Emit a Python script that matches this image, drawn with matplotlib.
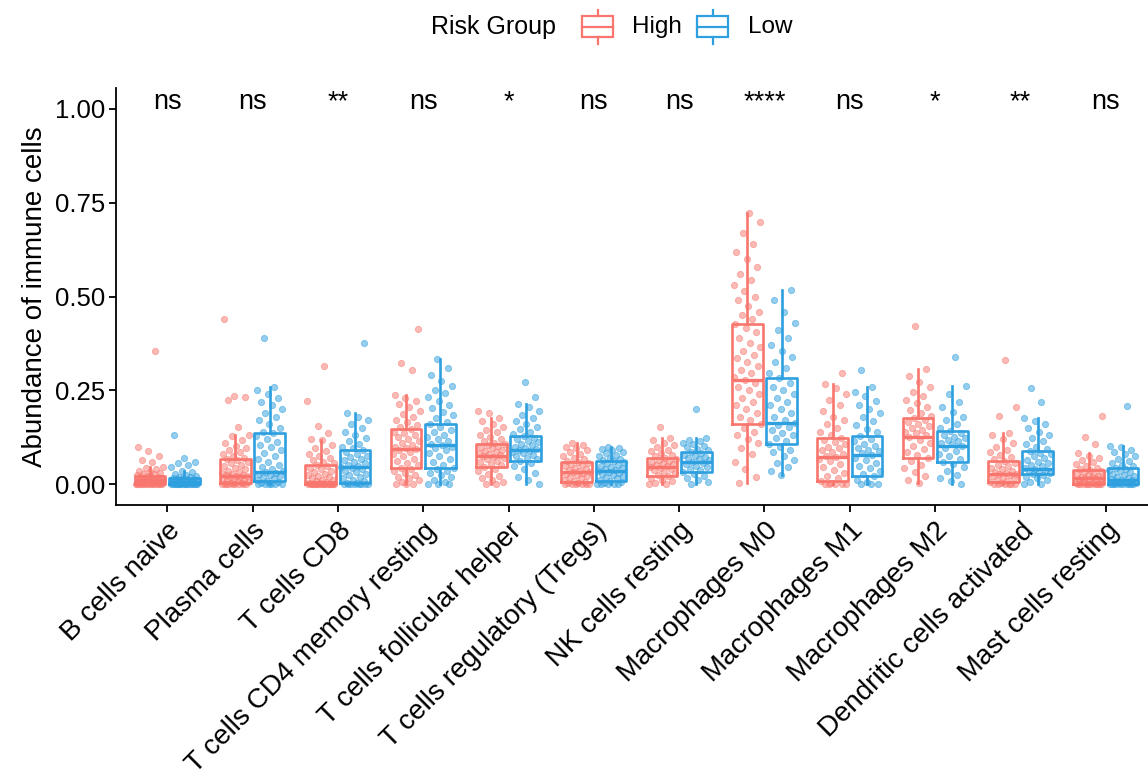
import matplotlib
matplotlib.use("Agg")
import matplotlib.pyplot as plt
from matplotlib.patches import Rectangle
from matplotlib.lines import Line2D

plt.rcParams['font.family'] = ['Liberation Sans', 'DejaVu Sans']

categories = ["B cells naive", "Plasma cells", "T cells CD8", "T cells CD4 memory resting",
              "T cells follicular helper", "T cells regulatory (Tregs)", "NK cells resting",
              "Macrophages M0", "Macrophages M1", "Macrophages M2",
              "Dendritic cells activated", "Mast cells resting"]
groups = ["High", "Low"]
signif = ["ns", "ns", "**", "ns", "*", "ns", "ns", "****", "ns", "*", "**", "ns"]

# box statistics
high_lo = [0, 0, 0, 0, 0, 0, 0, 0.003, 0, 0.003, 0, 0]
high_q1 = [0, .004, 0, .044, .046, .006, .021, .160, .008, .070, .006, 0]
high_med = [.010, .022, .004, .093, .076, .033, .046, .277, .071, .126, .028, .015]
high_q3 = [.022, .066, .052, .147, .106, .058, .070, .427, .122, .175, .061, .037]
high_hi = [.046, .132, .117, .237, .175, .110, .124, .722, .268, .306, .137, .082]

low_lo = [0, 0, 0, 0, 0, 0, 0, .024, 0, 0, 0, 0]
low_q1 = [0, .009, .004, .044, .061, .009, .033, .107, .021, .060, .027, 0]
low_med = [.006, .033, .046, .104, .091, .035, .060, .162, .077, .102, .040, .011]
low_q3 = [.015, .135, .090, .159, .129, .061, .086, .282, .129, .141, .088, .043]
low_hi = [.035, .258, .190, .333, .213, .100, .122, .517, .258, .262, .177, .102]

# individual sample values (estimated)
high_points = [
    [0, 0, 0, 0, 0, 0, 0, 0, 0, 0, 0, 0, 0, 0, .002, .003, .004, .005, .006, .007, .008, .009, .010, .010, .011,
     .012, .013, .014, .015, .016, .018, .019, .020, .022, .024, .026, .028, .030, .033, .036, .040, .043, .046,
     .060, .065, .075, .089, .100, .355],
    [0, 0, 0, 0, 0, 0, 0, 0, 0, .002, .004, .006, .008, .010, .012, .014, .016, .018, .020, .021, .022, .023, .025,
     .027, .030, .033, .036, .040, .044, .048, .052, .056, .060, .064, .066, .070, .075, .080, .085, .090, .096,
     .102, .110, .118, .128, .132, .153, .224, .233, .235, .440],
    [0, 0, 0, 0, 0, 0, 0, 0, 0, 0, 0, 0, 0, 0, 0, 0, 0, 0, .002, .004, .006, .008, .010, .012, .015, .018, .021,
     .024, .028, .032, .036, .040, .044, .048, .052, .056, .060, .065, .070, .075, .080, .088, .095, .105, .117,
     .120, .137, .156, .222, .315],
    [0, 0, 0, .005, .010, .015, .020, .025, .030, .035, .040, .044, .050, .056, .062, .068, .074, .080, .085, .090,
     .093, .096, .100, .105, .110, .115, .120, .125, .130, .135, .140, .147, .152, .158, .165, .172, .180, .188,
     .196, .205, .214, .222, .230, .237, .303, .322, .413],
    [0, 0, .005, .010, .016, .022, .028, .034, .040, .046, .050, .054, .058, .062, .066, .070, .073, .076, .078,
     .080, .083, .086, .089, .092, .095, .098, .101, .104, .106, .110, .115, .120, .126, .132, .138, .145, .152,
     .160, .168, .175, .190, .195],
    [0, 0, 0, 0, 0, 0, .002, .004, .006, .009, .012, .015, .018, .021, .024, .027, .030, .032, .033, .035, .038,
     .041, .044, .047, .050, .053, .056, .058, .062, .066, .070, .075, .080, .085, .090, .095, .100, .105, .110],
    [0, 0, .004, .008, .012, .016, .021, .025, .029, .033, .037, .040, .043, .046, .048, .050, .053, .056, .059,
     .062, .065, .068, .070, .074, .078, .082, .087, .092, .098, .104, .110, .117, .124, .153],
    [.003, .020, .040, .060, .080, .095, .110, .120, .130, .140, .150, .160, .170, .180, .190, .200, .210, .220,
     .230, .240, .250, .260, .270, .277, .285, .295, .305, .315, .325, .335, .345, .355, .365, .375, .390, .405,
     .415, .427, .440, .450, .460, .475, .490, .500, .515, .530, .545, .560, .580, .600, .620, .640, .670, .700,
     .722],
    [0, 0, 0, 0, 0, .004, .008, .015, .022, .030, .038, .046, .054, .062, .068, .071, .075, .080, .085, .090, .095,
     .100, .106, .112, .117, .122, .130, .140, .150, .160, .170, .180, .195, .210, .225, .240, .255, .268, .295],
    [.003, .012, .022, .032, .042, .052, .061, .070, .078, .086, .094, .102, .110, .118, .126, .130, .135, .140,
     .145, .150, .155, .160, .165, .170, .175, .182, .190, .198, .206, .215, .225, .235, .245, .258, .272, .288,
     .306, .421],
    [0, 0, 0, 0, 0, 0, .003, .006, .009, .012, .015, .018, .021, .024, .027, .028, .030, .033, .036, .040, .044,
     .048, .052, .056, .061, .066, .072, .078, .085, .092, .100, .110, .120, .130, .137, .182, .206, .331],
    [0, 0, 0, 0, 0, 0, 0, 0, 0, 0, .002, .004, .006, .008, .010, .012, .014, .015, .016, .018, .020, .022, .024,
     .026, .028, .031, .034, .037, .040, .044, .048, .053, .058, .064, .070, .076, .082, .106, .125, .181],
]
low_points = [
    [0, 0, 0, 0, 0, 0, 0, 0, 0, 0, 0, 0, 0, 0, 0, 0, .001, .002, .003, .004, .005, .006, .006, .007, .008, .009,
     .010, .011, .012, .013, .014, .015, .016, .018, .020, .022, .025, .028, .031, .035, .045, .050, .055, .060,
     .070, .130],
    [0, 0, 0, 0, 0, 0, .003, .006, .009, .012, .015, .018, .021, .024, .027, .030, .033, .035, .040, .046, .052,
     .060, .068, .075, .082, .090, .098, .105, .112, .120, .128, .135, .140, .150, .160, .170, .180, .190, .200,
     .210, .220, .230, .240, .250, .258, .390],
    [0, 0, 0, 0, 0, 0, 0, 0, .002, .004, .008, .012, .016, .020, .024, .028, .032, .036, .040, .043, .046, .048,
     .052, .056, .060, .064, .068, .072, .076, .080, .085, .090, .095, .100, .108, .116, .124, .132, .140, .150,
     .160, .170, .180, .190, .377],
    [0, 0, 0, .005, .012, .018, .024, .030, .036, .040, .044, .050, .058, .066, .074, .082, .090, .096, .100, .104,
     .108, .114, .120, .126, .132, .138, .145, .152, .159, .166, .175, .184, .193, .202, .212, .222, .232, .242,
     .252, .262, .275, .290, .310, .333],
    [0, .010, .020, .030, .040, .048, .055, .061, .066, .070, .074, .078, .082, .086, .089, .091, .094, .097, .100,
     .104, .108, .112, .116, .120, .124, .129, .134, .140, .146, .152, .160, .168, .176, .185, .195, .205, .213,
     .233, .273],
    [0, 0, 0, 0, 0, .003, .006, .009, .012, .015, .018, .021, .024, .027, .030, .033, .035, .037, .040, .043, .046,
     .049, .052, .055, .058, .061, .064, .067, .070, .074, .078, .082, .086, .090, .094, .097, .100],
    [0, .005, .010, .016, .022, .028, .033, .037, .041, .045, .049, .053, .057, .060, .063, .066, .069, .072, .075,
     .078, .082, .086, .090, .094, .098, .102, .106, .110, .114, .118, .122, .200],
    [.024, .035, .045, .055, .065, .075, .085, .092, .100, .107, .115, .122, .130, .137, .145, .152, .158, .162,
     .170, .180, .190, .200, .210, .220, .230, .240, .250, .260, .270, .282, .295, .310, .325, .340, .355, .370,
     .390, .410, .430, .460, .490, .517],
    [0, 0, 0, .005, .012, .021, .028, .035, .042, .049, .056, .063, .070, .077, .082, .087, .092, .097, .102, .108,
     .114, .120, .129, .138, .148, .158, .168, .178, .190, .200, .210, .222, .235, .246, .258, .304],
    [0, .008, .016, .025, .035, .045, .053, .060, .067, .074, .081, .088, .095, .102, .106, .110, .114, .118, .122,
     .126, .130, .135, .141, .150, .160, .170, .180, .192, .205, .220, .240, .262, .338],
    [0, 0, .005, .010, .015, .020, .024, .027, .030, .033, .036, .038, .040, .043, .047, .051, .055, .060, .065,
     .070, .075, .080, .084, .088, .094, .100, .108, .116, .124, .132, .140, .150, .160, .168, .177, .218, .257],
    [0, 0, 0, 0, 0, 0, 0, 0, 0, 0, .002, .004, .006, .008, .010, .011, .013, .016, .019, .022, .025, .028, .031,
     .034, .037, .040, .043, .047, .052, .057, .062, .068, .074, .080, .086, .092, .098, .102, .208],
]

colors = {"High": "#F8766D", "Low": "#2E9FDF"}

W, H = 1148, 770
fig = plt.figure(figsize=(W / 100, H / 100), dpi=100)
ax = fig.add_axes([116 / W, 1 - 505 / H, (1157 - 116) / W, (505 - 88) / H])

offset = 0.2
bw = 0.36
jw = 0.16
GOLD = 0.6180339887

for gi, (g, lo, q1, med, q3, hi, pts) in enumerate([
        ("High", high_lo, high_q1, high_med, high_q3, high_hi, high_points),
        ("Low", low_lo, low_q1, low_med, low_q3, low_hi, low_points)]):
    c = colors[g]
    stats = []
    pos = []
    for i in range(len(categories)):
        stats.append(dict(whislo=lo[i], q1=q1[i], med=med[i], q3=q3[i], whishi=hi[i], fliers=[]))
        pos.append(i + 1 + (-offset if g == "High" else offset))
    ax.bxp(stats, positions=pos, widths=bw, showcaps=False, patch_artist=False,
           boxprops=dict(color=c, linewidth=1.9),
           medianprops=dict(color=c, linewidth=2.4),
           whiskerprops=dict(color=c, linewidth=1.9),
           manage_ticks=False, zorder=2)
    for i, vals in enumerate(pts):
        n = len(vals)
        xs = [pos[i] + (((k * GOLD + 0.3 * gi + 0.17 * i) % 1.0) - 0.5) * 2 * jw for k in range(n)]
        ax.scatter(xs, vals, s=20, color=c, alpha=0.5, edgecolors=c, linewidths=0.7, zorder=3)

for i, lab in enumerate(signif):
    ax.text(i + 1, 1.0, lab, ha='center', va='baseline', fontsize=19.5)

ax.set_xlim(0.4, 12.6)
ax.set_ylim(-0.056, 1.056)
ax.set_yticks([0, 0.25, 0.5, 0.75, 1.0])
ax.set_yticklabels(["0.00", "0.25", "0.50", "0.75", "1.00"], fontsize=18.5)
ax.set_xticks(range(1, 13))
ax.set_xticklabels(categories, rotation=45, ha='right', va='top', rotation_mode='anchor', fontsize=20)
ax.set_ylabel("Abundance of immune cells", fontsize=20, labelpad=5)
for s in ['top', 'right']:
    ax.spines[s].set_visible(False)
for s in ['left', 'bottom']:
    ax.spines[s].set_linewidth(1.3)
ax.tick_params(axis='both', width=1.3, length=5, color='black', labelcolor='black')
ax.tick_params(axis='y', pad=3)
ax.tick_params(axis='x', pad=4)

# legend drawn at top
def fx(px):
    return px / W
def fy(py):
    return 1 - py / H

fig.text(fx(431), fy(27), "Risk Group", fontsize=18, ha='left', va='center')
for g, kx, tx in [("High", 582, 632), ("Low", 697, 748)]:
    c = colors[g]
    fig.add_artist(Rectangle((fx(kx), fy(37)), 31 / W, 21 / H, transform=fig.transFigure,
                             fill=False, edgecolor=c, linewidth=1.6))
    fig.add_artist(Line2D([fx(kx + 15.5)] * 2, [fy(37), fy(44)], transform=fig.transFigure, color=c, linewidth=1.6))
    fig.add_artist(Line2D([fx(kx + 15.5)] * 2, [fy(16), fy(10)], transform=fig.transFigure, color=c, linewidth=1.6))
    fig.add_artist(Line2D([fx(kx), fx(kx + 31)], [fy(26.5)] * 2, transform=fig.transFigure, color=c, linewidth=1.6))
    fig.text(fx(tx), fy(27), g, fontsize=17.5, ha='left', va='center')

fig.savefig("out.png", dpi=100)
